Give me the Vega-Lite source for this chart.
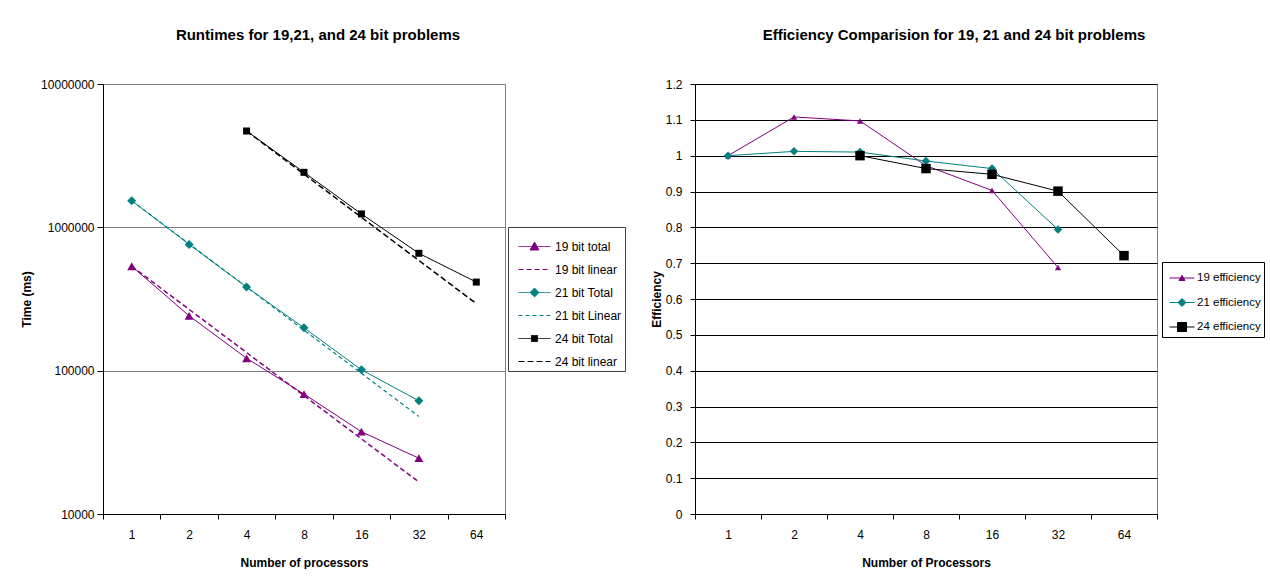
{
  "$schema": "https://vega.github.io/schema/vega-lite/v6.json",
  "background": "white",
  "padding": {"left": 20, "top": 27, "right": 0, "bottom": 0},
  "config": {
    "font": "Liberation Sans",
    "view": {"stroke": "#808080", "strokeWidth": 1},
    "axis": {
      "labelFont": "Liberation Sans", "labelFontSize": 12, "labelColor": "#000",
      "titleFont": "Liberation Sans", "titleFontSize": 12, "titleFontWeight": "bold", "titleColor": "#000",
      "domainColor": "#000", "tickColor": "#000", "domainWidth": 1, "tickWidth": 1
    },
    "legend": {"layout": {"right": {"anchor": "middle"}}},
    "title": {"font": "Liberation Sans", "fontSize": 15, "fontWeight": "bold", "color": "#000"},
    "concat": {"spacing": 23}
  },
  "resolve": {"scale": {"color": "independent", "stroke": "independent", "shape": "independent", "strokeDash": "independent", "x": "independent", "y": "independent"}},
  "datasets": {
    "runtime": [
      {"p": 1, "series": "19 bit total", "time": 535000},
      {"p": 2, "series": "19 bit total", "time": 241500},
      {"p": 4, "series": "19 bit total", "time": 122000},
      {"p": 8, "series": "19 bit total", "time": 68700},
      {"p": 16, "series": "19 bit total", "time": 37500},
      {"p": 32, "series": "19 bit total", "time": 24500},
      {"p": 1, "series": "19 bit linear", "time": 535000},
      {"p": 2, "series": "19 bit linear", "time": 267500},
      {"p": 4, "series": "19 bit linear", "time": 133750},
      {"p": 8, "series": "19 bit linear", "time": 66875},
      {"p": 16, "series": "19 bit linear", "time": 33438},
      {"p": 32, "series": "19 bit linear", "time": 16719},
      {"p": 1, "series": "21 bit Total", "time": 1534000},
      {"p": 2, "series": "21 bit Total", "time": 760000},
      {"p": 4, "series": "21 bit Total", "time": 383000},
      {"p": 8, "series": "21 bit Total", "time": 199000},
      {"p": 16, "series": "21 bit Total", "time": 101400},
      {"p": 32, "series": "21 bit Total", "time": 61600},
      {"p": 1, "series": "21 bit Linear", "time": 1534000},
      {"p": 2, "series": "21 bit Linear", "time": 767000},
      {"p": 4, "series": "21 bit Linear", "time": 383500},
      {"p": 8, "series": "21 bit Linear", "time": 191750},
      {"p": 16, "series": "21 bit Linear", "time": 95875},
      {"p": 32, "series": "21 bit Linear", "time": 47938},
      {"p": 4, "series": "24 bit Total", "time": 4700000},
      {"p": 8, "series": "24 bit Total", "time": 2420000},
      {"p": 16, "series": "24 bit Total", "time": 1240000},
      {"p": 32, "series": "24 bit Total", "time": 659000},
      {"p": 64, "series": "24 bit Total", "time": 415000},
      {"p": 4, "series": "24 bit linear", "time": 4700000},
      {"p": 8, "series": "24 bit linear", "time": 2350000},
      {"p": 16, "series": "24 bit linear", "time": 1175000},
      {"p": 32, "series": "24 bit linear", "time": 587500},
      {"p": 64, "series": "24 bit linear", "time": 293750}
    ],
    "eff": [
      {"p": 1, "series": "19 efficiency", "eff": 1.0},
      {"p": 2, "series": "19 efficiency", "eff": 1.108},
      {"p": 4, "series": "19 efficiency", "eff": 1.097},
      {"p": 8, "series": "19 efficiency", "eff": 0.972},
      {"p": 16, "series": "19 efficiency", "eff": 0.903},
      {"p": 32, "series": "19 efficiency", "eff": 0.688},
      {"p": 1, "series": "21 efficiency", "eff": 1.0},
      {"p": 2, "series": "21 efficiency", "eff": 1.012},
      {"p": 4, "series": "21 efficiency", "eff": 1.01},
      {"p": 8, "series": "21 efficiency", "eff": 0.985},
      {"p": 16, "series": "21 efficiency", "eff": 0.964},
      {"p": 32, "series": "21 efficiency", "eff": 0.794},
      {"p": 4, "series": "24 efficiency", "eff": 1.0},
      {"p": 8, "series": "24 efficiency", "eff": 0.964},
      {"p": 16, "series": "24 efficiency", "eff": 0.948},
      {"p": 32, "series": "24 efficiency", "eff": 0.901},
      {"p": 64, "series": "24 efficiency", "eff": 0.721}
    ]
  },
  "hconcat": [
    {
      "width": 402,
      "height": 430,
      "title": {"text": "Runtimes for 19,21, and 24 bit problems", "dx": 14, "offset": 35},
      "data": {"name": "runtime"},
      "encoding": {
        "x": {"field": "p", "type": "ordinal", "bandPosition": 0.5,
          "scale": {"type": "band", "domain": [1, 2, 4, 8, 16, 32, 64], "paddingInner": 0, "paddingOuter": 0},
          "axis": {"title": "Number of processors", "tickBand": "extent", "grid": false, "labelAngle": 0, "tickSize": 5, "labelPadding": 10, "titlePadding": 17}},
        "y": {"field": "time", "type": "quantitative",
          "scale": {"type": "log", "domain": [10000, 10000000]},
          "axis": {"title": "Time (ms)", "values": [10000, 100000, 1000000, 10000000], "format": "d", "grid": true, "gridColor": "#808080", "tickSize": 6, "labelPadding": 3, "titlePadding": 7}}
      },
      "layer": [
        {"transform": [{"filter": "datum.series == '19 bit linear'"}],
         "mark": {"type": "line", "color": "#800080", "strokeWidth": 1.5, "strokeDash": [5, 3]}, "encoding": {}},
        {"transform": [{"filter": "datum.series == '21 bit Linear'"}],
         "mark": {"type": "line", "color": "#008080", "strokeWidth": 1.2, "strokeDash": [4, 3]}, "encoding": {}},
        {"transform": [{"filter": "datum.series == '24 bit linear'"}],
         "mark": {"type": "line", "color": "#000000", "strokeWidth": 1.5, "strokeDash": [6, 3]}, "encoding": {}},
        {"transform": [{"filter": "datum.series == '19 bit total'"}],
         "mark": {"type": "line", "color": "#800080", "strokeWidth": 1}, "encoding": {}},
        {"transform": [{"filter": "datum.series == '21 bit Total'"}],
         "mark": {"type": "line", "color": "#008080", "strokeWidth": 1}, "encoding": {}},
        {"transform": [{"filter": "datum.series == '24 bit Total'"}],
         "mark": {"type": "line", "color": "#000000", "strokeWidth": 1}, "encoding": {}},
        {
          "transform": [{"filter": "datum.series == '19 bit total'"}],
          "mark": {"type": "point", "shape": "triangle-up", "filled": true, "size": 81, "color": "#800080", "opacity": 1}
        },
        {
          "transform": [{"filter": "datum.series == '21 bit Total'"}],
          "mark": {"type": "point", "shape": "diamond", "filled": true, "size": 81, "color": "#008080", "opacity": 1}
        },
        {
          "transform": [{"filter": "datum.series == '24 bit Total'"}],
          "mark": {"type": "point", "shape": "square", "filled": true, "size": 49, "color": "#000000", "opacity": 1}
        },
        {
          "mark": {"type": "point", "filled": true, "opacity": 0},
          "encoding": {
            "color": {"field": "series", "type": "nominal",
              "scale": {"domain": ["19 bit total", "19 bit linear", "21 bit Total", "21 bit Linear", "24 bit Total", "24 bit linear"],
                "range": ["#800080", "#800080", "#008080", "#008080", "#000000", "#000000"]},
              "legend": {"title": null, "orient": "right", "offset": 3, "padding": 3, "strokeColor": "#404040", "fillColor": "#ffffff", "symbolSize": 1024, "symbolStrokeWidth": 1, "symbolOpacity": 1, "symbolOffset": 7, "labelOffset": 4, "rowPadding": 0, "labelFontSize": 12, "labelColor": "#000", "labelFont": "Liberation Sans"}},
            "stroke": {"field": "series", "type": "nominal",
              "scale": {"domain": ["19 bit total", "19 bit linear", "21 bit Total", "21 bit Linear", "24 bit Total", "24 bit linear"],
                "range": ["#800080", "#800080", "#008080", "#008080", "#000000", "#000000"]},
              "legend": {"title": null, "orient": "right", "offset": 3, "padding": 3, "strokeColor": "#404040", "fillColor": "#ffffff", "symbolSize": 1024, "symbolStrokeWidth": 1, "symbolOpacity": 1, "symbolOffset": 7, "labelOffset": 4, "rowPadding": 0, "labelFontSize": 12, "labelColor": "#000", "labelFont": "Liberation Sans"}},
            "shape": {"field": "series", "type": "nominal",
              "scale": {"domain": ["19 bit total", "19 bit linear", "21 bit Total", "21 bit Linear", "24 bit Total", "24 bit linear"],
                "range": ["M-1,0H1M0,-0.28L0.28,0.22H-0.28Z", "M-1,0H1", "M-1,0H1M0,-0.28L0.28,0L0,0.28L-0.28,0Z", "M-1,0H1", "M-1,0H1M-0.19,-0.19H0.19V0.19H-0.19Z", "M-1,0H1"]},
              "legend": {"title": null, "orient": "right", "offset": 3, "padding": 3, "strokeColor": "#404040", "fillColor": "#ffffff", "symbolSize": 1024, "symbolStrokeWidth": 1, "symbolOpacity": 1, "symbolOffset": 7, "labelOffset": 4, "rowPadding": 0, "labelFontSize": 12, "labelColor": "#000", "labelFont": "Liberation Sans"}},
            "strokeDash": {"field": "series", "type": "nominal",
              "scale": {"domain": ["19 bit total", "19 bit linear", "21 bit Total", "21 bit Linear", "24 bit Total", "24 bit linear"],
                "range": [[1, 0], [5, 3], [1, 0], [4, 3], [1, 0], [6, 3]]},
              "legend": {"title": null, "orient": "right", "offset": 3, "padding": 3, "strokeColor": "#404040", "fillColor": "#ffffff", "symbolSize": 1024, "symbolStrokeWidth": 1, "symbolOpacity": 1, "symbolOffset": 7, "labelOffset": 4, "rowPadding": 0, "labelFontSize": 12, "labelColor": "#000", "labelFont": "Liberation Sans"}}
          }
        }
      ]
    },
    {
      "width": 462,
      "height": 430,
      "title": {"text": "Efficiency Comparision for 19, 21 and 24 bit problems", "dx": 28, "offset": 35},
      "data": {"name": "eff"},
      "encoding": {
        "x": {"field": "p", "type": "ordinal", "bandPosition": 0.5,
          "scale": {"type": "band", "domain": [1, 2, 4, 8, 16, 32, 64], "paddingInner": 0, "paddingOuter": 0},
          "axis": {"title": "Number of Processors", "tickBand": "extent", "grid": false, "labelAngle": 0, "tickSize": 5, "labelPadding": 10, "titlePadding": 17}},
        "y": {"field": "eff", "type": "quantitative",
          "scale": {"domain": [0, 1.2]},
          "axis": {"title": "Efficiency", "values": [0, 0.1, 0.2, 0.3, 0.4, 0.5, 0.6, 0.7, 0.8, 0.9, 1, 1.1, 1.2], "format": "~g", "grid": true, "gridColor": "#000000", "tickSize": 5, "labelPadding": 8, "titlePadding": 2}}
      },
      "layer": [
        {"transform": [{"filter": "datum.series == '19 efficiency'"}],
         "mark": {"type": "line", "color": "#800080", "strokeWidth": 1}, "encoding": {}},
        {"transform": [{"filter": "datum.series == '21 efficiency'"}],
         "mark": {"type": "line", "color": "#008080", "strokeWidth": 1}, "encoding": {}},
        {"transform": [{"filter": "datum.series == '24 efficiency'"}],
         "mark": {"type": "line", "color": "#000000", "strokeWidth": 1}, "encoding": {}},
        {
          "transform": [{"filter": "datum.series == '19 efficiency'"}],
          "mark": {"type": "point", "shape": "triangle-up", "filled": true, "size": 40, "color": "#800080", "opacity": 1}
        },
        {
          "transform": [{"filter": "datum.series == '21 efficiency'"}],
          "mark": {"type": "point", "shape": "diamond", "filled": true, "size": 72, "color": "#008080", "opacity": 1}
        },
        {
          "transform": [{"filter": "datum.series == '24 efficiency'"}],
          "mark": {"type": "point", "shape": "square", "filled": true, "size": 90, "color": "#000000", "opacity": 1}
        },
        {
          "mark": {"type": "point", "filled": true, "opacity": 0},
          "encoding": {
            "color": {"field": "series", "type": "nominal",
              "scale": {"domain": ["19 efficiency", "21 efficiency", "24 efficiency"], "range": ["#800080", "#008080", "#000000"]},
              "legend": {"title": null, "orient": "right", "offset": 5, "padding": 3, "strokeColor": "#000000", "fillColor": "#ffffff", "symbolSize": 625, "symbolStrokeWidth": 1, "symbolOpacity": 1, "symbolOffset": 4, "labelOffset": 2, "rowPadding": 5.5, "labelFontSize": 11.5, "labelColor": "#000", "labelFont": "Liberation Sans"}},
            "stroke": {"field": "series", "type": "nominal",
              "scale": {"domain": ["19 efficiency", "21 efficiency", "24 efficiency"], "range": ["#800080", "#008080", "#000000"]},
              "legend": {"title": null, "orient": "right", "offset": 5, "padding": 3, "strokeColor": "#000000", "fillColor": "#ffffff", "symbolSize": 625, "symbolStrokeWidth": 1, "symbolOpacity": 1, "symbolOffset": 4, "labelOffset": 2, "rowPadding": 5.5, "labelFontSize": 11.5, "labelColor": "#000", "labelFont": "Liberation Sans"}},
            "shape": {"field": "series", "type": "nominal",
              "scale": {"domain": ["19 efficiency", "21 efficiency", "24 efficiency"],
                "range": ["M-1,0H1M0,-0.22L0.24,0.2H-0.24Z", "M-1,0H1M0,-0.32L0.32,0L0,0.32L-0.32,0Z", "M-1,0H1M-0.36,-0.36H0.36V0.36H-0.36Z"]},
              "legend": {"title": null, "orient": "right", "offset": 5, "padding": 3, "strokeColor": "#000000", "fillColor": "#ffffff", "symbolSize": 625, "symbolStrokeWidth": 1, "symbolOpacity": 1, "symbolOffset": 4, "labelOffset": 2, "rowPadding": 5.5, "labelFontSize": 11.5, "labelColor": "#000", "labelFont": "Liberation Sans"}}
          }
        }
      ]
    }
  ]
}
